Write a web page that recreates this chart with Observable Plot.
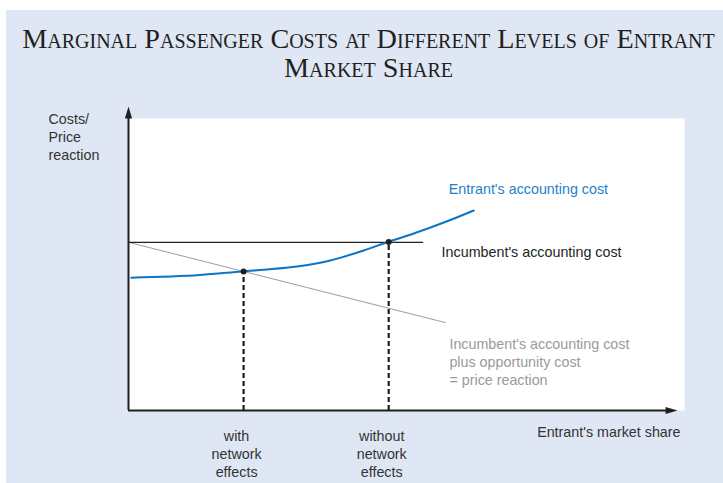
<!DOCTYPE html>
<html><head><meta charset="utf-8">
<script src="https://cdn.jsdelivr.net/npm/d3@7"></script>
<script src="https://cdn.jsdelivr.net/npm/@observablehq/plot@0.6"></script>
<style>
html,body{margin:0;padding:0;background:#fff;width:723px;height:483px;overflow:hidden}
#panel{position:absolute;left:6px;top:10px;width:717px;height:473px;background:#dfe7f4}
#title{position:absolute;left:10px;top:24px;width:717px;text-align:center;font-family:"Liberation Serif","Times New Roman",serif;font-variant:small-caps;font-size:28.2px;line-height:29px;color:#231f20}
#chart{position:absolute;left:0;top:0}
</style></head><body>
<div id="panel"></div>
<div id="title"></div>
<div id="chart"></div>
<script>
const titleLines = ["Marginal Passenger Costs at Different Levels of Entrant", "Market Share"];

// Entrant's accounting cost (blue curve)
const entrantShare = [0.5, 12.9, 20.4, 24.3, 30.3, 36.3, 42.3, 46.5, 51.3, 57.3, 62.1];
const entrantCost  = [45.5, 46.4, 47.6, 48.2, 49.3, 51.4, 54.8, 57.6, 60.6, 64.8, 68.5];
// Incumbent's accounting cost (black horizontal line)
const incumbentShare = [0, 52.9];
const incumbentCost  = [57.6, 57.6];
// Incumbent's accounting cost plus opportunity cost (grey line)
const reactionShare = [0, 57.0];
const reactionCost  = [57.6, 30.1];
// Intersection points
const equilibriumShare = [20.7, 46.8];
const equilibriumCost  = [47.6, 57.7];
const equilibriumLabels = ["with\nnetwork\neffects", "without\nnetwork\neffects"];

const entrantLabel = "Entrant's accounting cost";
const incumbentLabel = "Incumbent's accounting cost";
const reactionLabel = "Incumbent's accounting cost\nplus opportunity cost\n= price reaction";
const yAxisLabel = "Costs/\nPrice\nreaction";
const xAxisLabel = "Entrant's market share";
const axisMaxX = 97.6;
const axisMaxY = 101.9;

document.getElementById("title").innerHTML = titleLines.join("<br>");

const toRows = (xs, ys) => xs.map((x, i) => ({x, y: ys[i]}));
const entrant = toRows(entrantShare, entrantCost);
const incumbent = toRows(incumbentShare, incumbentCost);
const reaction = toRows(reactionShare, reactionCost);
const equilibria = equilibriumShare.map((x, i) => ({x, y: equilibriumCost[i], label: equilibriumLabels[i]}));

const arrowHead = {
  draw(context, size) {
    const s = Math.sqrt(size / Math.PI);
    context.moveTo(0, -1.6 * s);
    context.lineTo(0.9 * s, 1.4 * s);
    context.lineTo(-0.9 * s, 1.4 * s);
    context.closePath();
  }
};

const ink = "#231f20";
const chart = Plot.plot({
  width: 723,
  height: 483,
  marginLeft: 128,
  marginRight: 39,
  marginTop: 118,
  marginBottom: 73,
  x: {domain: [0, 100], axis: null},
  y: {domain: [0, 100], axis: null},
  style: {background: "transparent", overflow: "visible", fontFamily: "'Liberation Sans', Arial, sans-serif", fontSize: "14.3px"},
  marks: [
    Plot.frame({fill: "white", stroke: "none"}),
    Plot.line(reaction, {x: "x", y: "y", stroke: "#9d9d9d", strokeWidth: 1}),
    Plot.line(incumbent, {x: "x", y: "y", stroke: ink, strokeWidth: 1.3}),
    Plot.ruleX(equilibria, {x: "x", y1: 0, y2: "y", stroke: ink, strokeWidth: 2.2, strokeDasharray: "5,3"}),
    Plot.line(entrant, {x: "x", y: "y", stroke: "#0f75c2", strokeWidth: 2, curve: "monotone-x"}),
    Plot.dot(equilibria, {x: "x", y: "y", r: 3, fill: ink}),
    // axes
    Plot.ruleX([0], {y1: 0, y2: axisMaxY, stroke: ink, strokeWidth: 2}),
    Plot.ruleY([0], {x1: 0, x2: axisMaxX, stroke: ink, strokeWidth: 2}),
    Plot.dot([0], {x: 0, y: axisMaxY, r: 4, symbol: arrowHead, fill: ink, stroke: "none"}),
    Plot.dot([0], {x: axisMaxX, y: 0, r: 4, symbol: arrowHead, fill: ink, stroke: "none", rotate: 90}),
    // labels
    Plot.text([entrant.at(-1)], {x: "x", y: "y", text: () => entrantLabel, textAnchor: "start", dx: -25, dy: -21, fill: "#1f7fc8"}),
    Plot.text([incumbent.at(-1)], {x: "x", y: "y", text: () => incumbentLabel, textAnchor: "start", dx: 19, dy: 10, fill: ink}),
    Plot.text([reaction.at(-1)], {x: "x", y: "y", text: () => reactionLabel, textAnchor: "start", dx: 4, dy: 39, lineHeight: 1.26, fill: "#9a9a9a"}),
    Plot.text(equilibria, {x: "x", y: 0, text: "label", lineAnchor: "top", dx: -7, dy: 18, lineHeight: 1.26, fill: "#333"}),
    Plot.text([yAxisLabel], {frameAnchor: "top-left", text: d => d, textAnchor: "start", lineAnchor: "top", dx: -80, dy: -7, lineHeight: 1.26, fill: "#333"}),
    Plot.text([xAxisLabel], {frameAnchor: "bottom-right", text: d => d, textAnchor: "end", dx: -4, dy: 26, fill: "#333"})
  ]
});
document.getElementById("chart").appendChild(chart);
</script>
</body></html>
